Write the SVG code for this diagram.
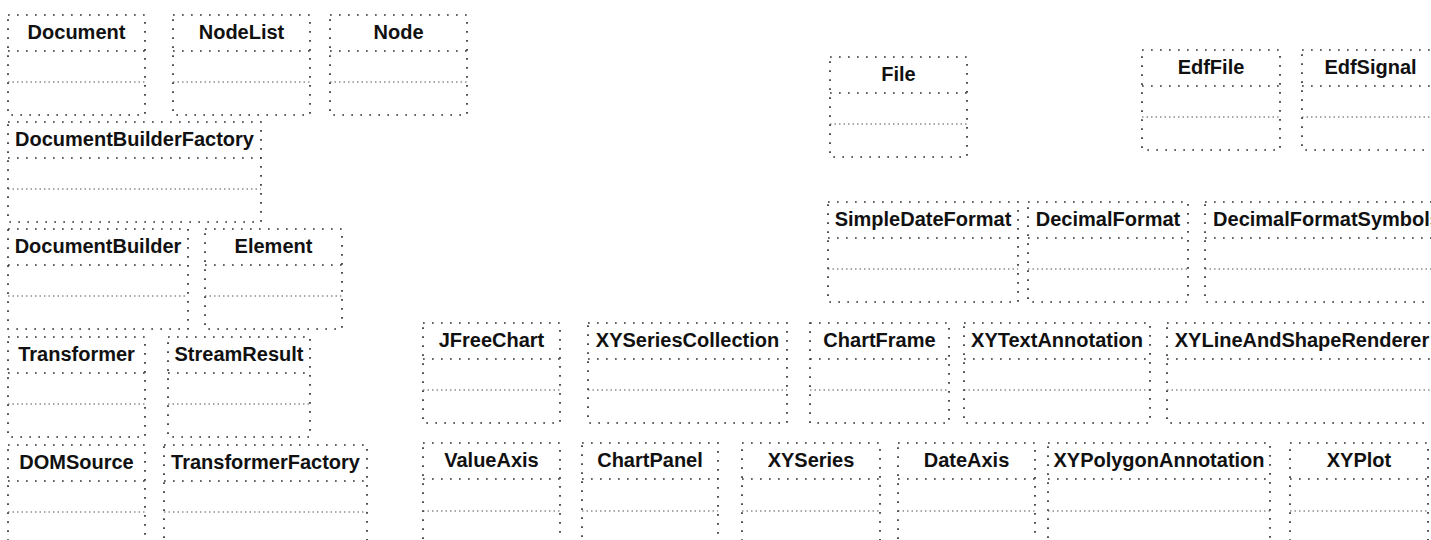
<svg xmlns="http://www.w3.org/2000/svg" width="1431" height="540" viewBox="0 0 1431 540">
<style>
.box{fill:none;stroke:#333;stroke-width:1.7;stroke-dasharray:1.7 7.3}
.sep{stroke:#333;stroke-width:1.7;stroke-dasharray:1.7 7.3}
.sep2{stroke:#555;stroke-width:1.2;stroke-dasharray:1.5 3}
.t{font-family:"Liberation Sans",Arial,sans-serif;font-weight:bold;font-size:20px;fill:#111;text-anchor:middle}
</style>
<rect width="1431" height="540" fill="#fff"/>
<g id="Document"><rect class="box" x="8" y="15" width="137" height="100"/><line class="sep" x1="8" y1="51" x2="145" y2="51"/><line class="sep2" x1="8" y1="82" x2="145" y2="82"/><text class="t" x="76.5" y="39">Document</text></g>
<g id="NodeList"><rect class="box" x="173" y="15" width="137" height="100"/><line class="sep" x1="173" y1="51" x2="310" y2="51"/><line class="sep2" x1="173" y1="82" x2="310" y2="82"/><text class="t" x="241.5" y="39">NodeList</text></g>
<g id="Node"><rect class="box" x="330" y="15" width="137" height="100"/><line class="sep" x1="330" y1="51" x2="467" y2="51"/><line class="sep2" x1="330" y1="82" x2="467" y2="82"/><text class="t" x="398.5" y="39">Node</text></g>
<g id="DocumentBuilderFactory"><rect class="box" x="8" y="122" width="253" height="100"/><line class="sep" x1="8" y1="158" x2="261" y2="158"/><line class="sep2" x1="8" y1="189" x2="261" y2="189"/><text class="t" x="134.5" y="146">DocumentBuilderFactory</text></g>
<g id="DocumentBuilder"><rect class="box" x="8" y="229" width="180" height="100"/><line class="sep" x1="8" y1="265" x2="188" y2="265"/><line class="sep2" x1="8" y1="296" x2="188" y2="296"/><text class="t" x="98" y="253">DocumentBuilder</text></g>
<g id="Element"><rect class="box" x="205" y="229" width="137" height="100"/><line class="sep" x1="205" y1="265" x2="342" y2="265"/><line class="sep2" x1="205" y1="296" x2="342" y2="296"/><text class="t" x="273.5" y="253">Element</text></g>
<g id="Transformer"><rect class="box" x="8" y="337" width="137" height="100"/><line class="sep" x1="8" y1="373" x2="145" y2="373"/><line class="sep2" x1="8" y1="404" x2="145" y2="404"/><text class="t" x="76.5" y="361">Transformer</text></g>
<g id="StreamResult"><rect class="box" x="168" y="337" width="142" height="100"/><line class="sep" x1="168" y1="373" x2="310" y2="373"/><line class="sep2" x1="168" y1="404" x2="310" y2="404"/><text class="t" x="239" y="361">StreamResult</text></g>
<g id="DOMSource"><rect class="box" x="8" y="445" width="137" height="100"/><line class="sep" x1="8" y1="481" x2="145" y2="481"/><line class="sep2" x1="8" y1="512" x2="145" y2="512"/><text class="t" x="76.5" y="469">DOMSource</text></g>
<g id="TransformerFactory"><rect class="box" x="164" y="445" width="203" height="100"/><line class="sep" x1="164" y1="481" x2="367" y2="481"/><line class="sep2" x1="164" y1="512" x2="367" y2="512"/><text class="t" x="265.5" y="469">TransformerFactory</text></g>
<g id="JFreeChart"><rect class="box" x="423" y="323" width="137" height="100"/><line class="sep" x1="423" y1="359" x2="560" y2="359"/><line class="sep2" x1="423" y1="390" x2="560" y2="390"/><text class="t" x="491.5" y="347">JFreeChart</text></g>
<g id="XYSeriesCollection"><rect class="box" x="588" y="323" width="199" height="100"/><line class="sep" x1="588" y1="359" x2="787" y2="359"/><line class="sep2" x1="588" y1="390" x2="787" y2="390"/><text class="t" x="687.5" y="347">XYSeriesCollection</text></g>
<g id="ChartFrame"><rect class="box" x="810" y="323" width="139" height="100"/><line class="sep" x1="810" y1="359" x2="949" y2="359"/><line class="sep2" x1="810" y1="390" x2="949" y2="390"/><text class="t" x="879.5" y="347">ChartFrame</text></g>
<g id="XYTextAnnotation"><rect class="box" x="964" y="323" width="186" height="100"/><line class="sep" x1="964" y1="359" x2="1150" y2="359"/><line class="sep2" x1="964" y1="390" x2="1150" y2="390"/><text class="t" x="1057" y="347">XYTextAnnotation</text></g>
<g id="XYLineAndShapeRenderer"><rect class="box" x="1167" y="323" width="272" height="100"/><line class="sep" x1="1167" y1="359" x2="1439" y2="359"/><line class="sep2" x1="1167" y1="390" x2="1439" y2="390"/><text class="t" x="1302" y="347">XYLineAndShapeRenderer</text></g>
<g id="ValueAxis"><rect class="box" x="423" y="443" width="137" height="100"/><line class="sep" x1="423" y1="479" x2="560" y2="479"/><line class="sep2" x1="423" y1="511" x2="560" y2="511"/><text class="t" x="491.5" y="467">ValueAxis</text></g>
<g id="ChartPanel"><rect class="box" x="582" y="443" width="136" height="100"/><line class="sep" x1="582" y1="479" x2="718" y2="479"/><line class="sep2" x1="582" y1="511" x2="718" y2="511"/><text class="t" x="650" y="467">ChartPanel</text></g>
<g id="XYSeries"><rect class="box" x="742" y="443" width="138" height="100"/><line class="sep" x1="742" y1="479" x2="880" y2="479"/><line class="sep2" x1="742" y1="511" x2="880" y2="511"/><text class="t" x="811" y="467">XYSeries</text></g>
<g id="DateAxis"><rect class="box" x="898" y="443" width="137" height="100"/><line class="sep" x1="898" y1="479" x2="1035" y2="479"/><line class="sep2" x1="898" y1="511" x2="1035" y2="511"/><text class="t" x="966.5" y="467">DateAxis</text></g>
<g id="XYPolygonAnnotation"><rect class="box" x="1048" y="443" width="222" height="100"/><line class="sep" x1="1048" y1="479" x2="1270" y2="479"/><line class="sep2" x1="1048" y1="511" x2="1270" y2="511"/><text class="t" x="1159" y="467">XYPolygonAnnotation</text></g>
<g id="XYPlot"><rect class="box" x="1290" y="443" width="138" height="100"/><line class="sep" x1="1290" y1="479" x2="1428" y2="479"/><line class="sep2" x1="1290" y1="511" x2="1428" y2="511"/><text class="t" x="1359" y="467">XYPlot</text></g>
<g id="File"><rect class="box" x="830" y="57" width="137" height="100"/><line class="sep" x1="830" y1="93" x2="967" y2="93"/><line class="sep2" x1="830" y1="124" x2="967" y2="124"/><text class="t" x="898.5" y="81">File</text></g>
<g id="EdfFile"><rect class="box" x="1142" y="50" width="138" height="100"/><line class="sep" x1="1142" y1="86" x2="1280" y2="86"/><line class="sep2" x1="1142" y1="117" x2="1280" y2="117"/><text class="t" x="1211" y="74">EdfFile</text></g>
<g id="EdfSignal"><rect class="box" x="1302" y="50" width="137" height="100"/><line class="sep" x1="1302" y1="86" x2="1439" y2="86"/><line class="sep2" x1="1302" y1="117" x2="1439" y2="117"/><text class="t" x="1370.5" y="74">EdfSignal</text></g>
<g id="SimpleDateFormat"><rect class="box" x="828" y="202" width="190" height="100"/><line class="sep" x1="828" y1="238" x2="1018" y2="238"/><line class="sep2" x1="828" y1="269" x2="1018" y2="269"/><text class="t" x="923" y="226">SimpleDateFormat</text></g>
<g id="DecimalFormat"><rect class="box" x="1028" y="202" width="160" height="100"/><line class="sep" x1="1028" y1="238" x2="1188" y2="238"/><line class="sep2" x1="1028" y1="269" x2="1188" y2="269"/><text class="t" x="1108" y="226">DecimalFormat</text></g>
<g id="DecimalFormatSymbols"><rect class="box" x="1205" y="202" width="244" height="100"/><line class="sep" x1="1205" y1="238" x2="1449" y2="238"/><line class="sep2" x1="1205" y1="269" x2="1449" y2="269"/><text class="t" x="1327" y="226">DecimalFormatSymbols</text></g>
<g id="connectors"/>
</svg>
